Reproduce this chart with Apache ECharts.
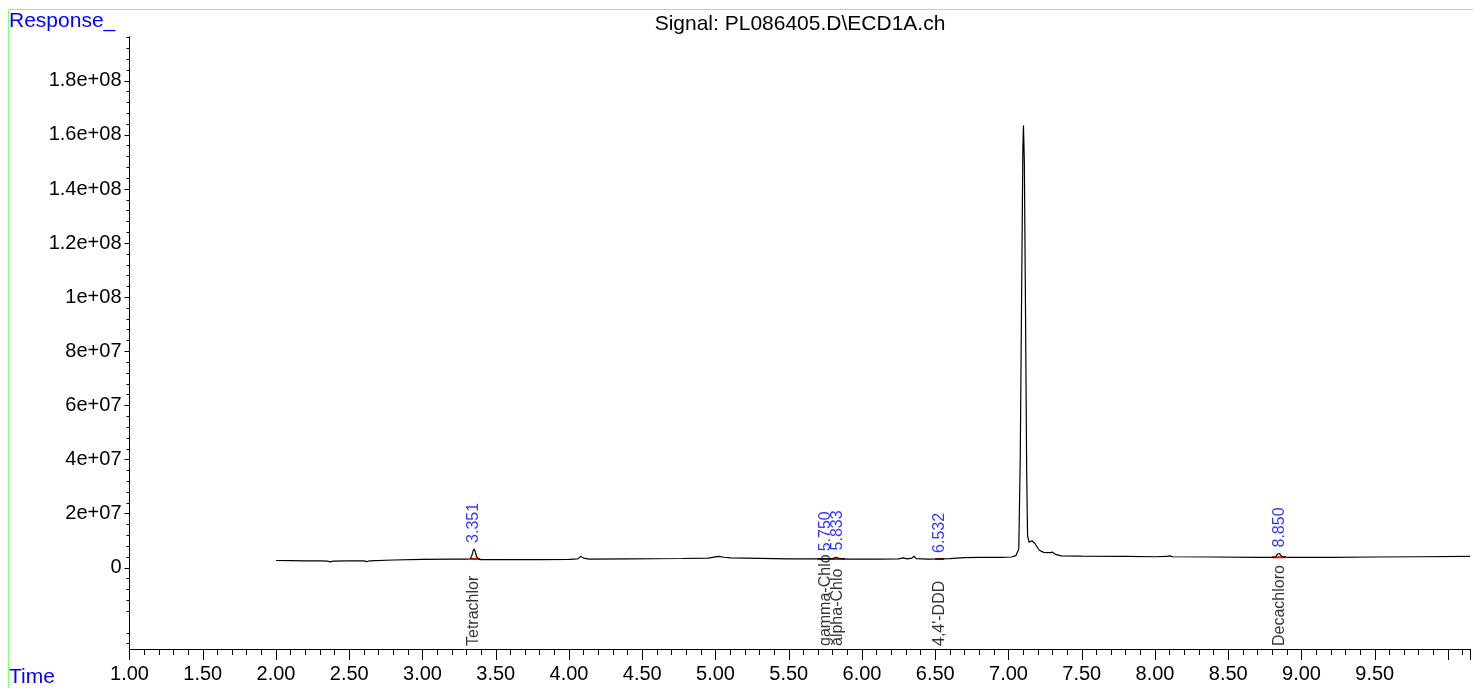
<!DOCTYPE html>
<html>
<head>
<meta charset="utf-8">
<style>
html,body{margin:0;padding:0;background:#fff;}
#chart{width:1473px;height:688px;}
</style>
<script src="https://cdn.jsdelivr.net/npm/echarts@6/dist/echarts.min.js"></script>
</head>
<body>
<div id="chart"></div>
<script>
// ---- data ----
var signalTitle = 'Signal: PL086405.D\\ECD1A.ch';
var traceTime = [2.00,2.10,2.20,2.30,2.35,2.37,2.39,2.50,2.60,2.62,2.64,2.80,3.00,3.20,3.30,3.325,3.335,3.345,3.352,3.36,3.37,3.385,3.40,3.60,3.80,4.00,4.06,4.08,4.10,4.14,4.40,4.77,4.95,5.02,5.06,5.10,5.30,5.50,5.70,5.74,5.75,5.76,5.80,5.822,5.833,5.845,5.90,6.10,6.25,6.28,6.31,6.34,6.355,6.37,6.45,6.53,6.60,6.70,6.80,6.95,7.02,7.05,7.06,7.07,7.08,7.09,7.098,7.102,7.108,7.116,7.124,7.13,7.14,7.16,7.18,7.21,7.24,7.28,7.30,7.32,7.36,7.50,7.80,8.00,8.08,8.10,8.12,8.40,8.70,8.82,8.835,8.85,8.865,8.90,9.20,9.50,9.80,10.15];
var traceValue = [2.7e6,2.65e6,2.6e6,2.55e6,2.45e6,2.2e6,2.45e6,2.6e6,2.55e6,2.3e6,2.6e6,2.9e6,3.1e6,3.2e6,3.25e6,3.3e6,4.2e6,6.2e6,7.0e6,6.0e6,4.0e6,3.2e6,3.0e6,3.0e6,3.0e6,3.1e6,3.3e6,4.2e6,3.6e6,3.2e6,3.3e6,3.45e6,3.6e6,4.2e6,3.9e6,3.7e6,3.5e6,3.3e6,3.3e6,3.4e6,3.9e6,3.4e6,3.4e6,3.9e6,4.2e6,3.5e6,3.2e6,3.2e6,3.3e6,3.7e6,3.3e6,3.6e6,4.3e6,3.4e6,3.2e6,3.3e6,3.4e6,3.8e6,3.9e6,3.9e6,4.0e6,4.5e6,5.0e6,7e6,40e6,105e6,155e6,163.5e6,150e6,95e6,35e6,12e6,9.5e6,10e6,9.0e6,6.5e6,5.7e6,5.6e6,5.8e6,5.0e6,4.4e6,4.3e6,4.2e6,4.1e6,4.2e6,4.4e6,4.1e6,4.0e6,3.9e6,3.9e6,5.0e6,5.3e6,4.2e6,3.9e6,3.9e6,4.0e6,4.1e6,4.2e6];

var peakTime   = [3.351, 5.750, 5.833, 6.532, 8.850];
var peakLabel  = ['3.351','5.750','5.833','6.532','8.850'];
var peakApex   = [7.0e6, 3.9e6, 4.2e6, 3.3e6, 5.3e6];
var compoundName = ['Tetrachlor','gamma-Chlo','alpha-Chlo',"4,4'-DDD",'Decachloro'];

// integration baselines: start, end, level
var baseStart = [3.327, 5.697, 6.499, 8.797];
var baseEnd   = [3.395, 5.885, 6.560, 8.893];
var baseLevel = [3.3e6, 3.3e6, 3.3e6, 3.9e6];

var xTickValues = [1.0,1.5,2.0,2.5,3.0,3.5,4.0,4.5,5.0,5.5,6.0,6.5,7.0,7.5,8.0,8.5,9.0,9.5];
var xTickLabels = ['1.00','1.50','2.00','2.50','3.00','3.50','4.00','4.50','5.00','5.50','6.00','6.50','7.00','7.50','8.00','8.50','9.00','9.50'];
var yTickValues = [0,2e7,4e7,6e7,8e7,1e8,1.2e8,1.4e8,1.6e8,1.8e8];
var yTickLabels = ['0','2e+07','4e+07','6e+07','8e+07','1e+08','1.2e+08','1.4e+08','1.6e+08','1.8e+08'];

// ---- build ----
var FONT = '"Liberation Sans", Arial, sans-serif';
var Y_MIN = -3e7, Y_MAX = 1.963e8;
var yMinor = [];
for (var k = -7; k * 4e6 <= Y_MAX; k++) {
  var v = k * 4e6;
  if (k % 5 !== 0) yMinor.push(v);
}

var trace = traceTime.map(function (t, i) { return [t, traceValue[i]]; });

var series = [{
  type: 'line', data: trace, showSymbol: false, symbol: 'none',
  lineStyle: { color: '#000', width: 1.2 }, z: 3, animation: false
}];
baseStart.forEach(function (s, i) {
  series.push({
    type: 'line', data: [[s, baseLevel[i]], [baseEnd[i], baseLevel[i]]],
    showSymbol: false, symbol: 'none', lineStyle: { color: '#ff0000', width: 2 }, z: 2, animation: false
  });
});
series.push({
  type: 'scatter', symbolSize: 0, clip: false, animation: false,
  data: peakTime.map(function (t, i) { return { value: [t, peakApex[i]], name: peakLabel[i] }; }),
  label: {
    show: true, position: 'top', distance: 6, rotate: 90, align: 'left', verticalAlign: 'middle',
    formatter: function (p) { return p.name; }, color: '#0000ff', fontSize: 16, fontFamily: FONT
  }
});
series.push({
  type: 'scatter', symbolSize: 0, clip: false, animation: false,
  data: peakTime.map(function (t, i) { return { value: [t, Y_MIN], name: compoundName[i] }; }),
  label: {
    show: true, position: 'top', distance: 3, rotate: 90, align: 'left', verticalAlign: 'middle',
    formatter: function (p) { return p.name; }, color: '#000', fontSize: 16, fontFamily: FONT
  }
});

var chart = echarts.init(document.getElementById('chart'), null, { renderer: 'canvas' });
chart.setOption({
  animation: false,
  backgroundColor: '#fff',
  grid: { left: 129.5, right: 0, top: 36.7, bottom: 39 },
  xAxis: {
    type: 'value', min: 1, max: 10.15, interval: 0.5,
    axisLine: { show: true, onZero: false, lineStyle: { color: '#000', width: 1 } },
    axisTick: { show: true, length: 11, lineStyle: { color: '#000' } },
    minorTick: { show: true, splitNumber: 5, length: 6, lineStyle: { color: '#000' } },
    splitLine: { show: false },
    axisLabel: {
      margin: 15, fontSize: 20, color: '#000', fontFamily: FONT,
      formatter: function (v) {
        var i = xTickValues.findIndex(function (x) { return Math.abs(x - v) < 1e-6; });
        return i >= 0 ? xTickLabels[i] : '';
      }
    }
  },
  yAxis: [{
    type: 'value', min: Y_MIN, max: Y_MAX, position: 'left',
    axisLine: { show: true, onZero: false, lineStyle: { color: '#000', width: 1 } },
    axisTick: { show: true, length: 5, customValues: yTickValues, lineStyle: { color: '#000' } },
    splitLine: { show: false },
    axisLabel: {
      show: true, customValues: yTickValues, margin: 8, fontSize: 20, color: '#000', fontFamily: FONT,
      formatter: function (v) {
        var i = yTickValues.findIndex(function (y) { return Math.abs(y - v) < 1; });
        return i >= 0 ? yTickLabels[i] : '';
      }
    }
  }, {
    type: 'value', min: Y_MIN, max: Y_MAX, position: 'left', offset: 0,
    axisLine: { show: false },
    axisTick: { show: true, length: 3, customValues: yMinor, lineStyle: { color: '#000' } },
    splitLine: { show: false },
    axisLabel: { show: false }
  }],
  series: series,
  graphic: [
    { type: 'rect', shape: { x: 8.5, y: 9.5, width: 1600, height: 800 }, style: { fill: 'none', stroke: '#80ff80', lineWidth: 1 }, silent: true },
    { type: 'text', x: 9, y: 21, style: { text: 'Response_', fill: '#0000ff', font: '21px ' + FONT, textAlign: 'left', textVerticalAlign: 'middle' } },
    { type: 'text', x: 9, y: 677, style: { text: 'Time', fill: '#0000ff', font: '21px ' + FONT, textAlign: 'left', textVerticalAlign: 'middle' } },
    { type: 'text', x: 800, y: 24, style: { text: signalTitle, fill: '#000', font: '21px ' + FONT, textAlign: 'center', textVerticalAlign: 'middle' } }
  ]
});
</script>
</body>
</html>
